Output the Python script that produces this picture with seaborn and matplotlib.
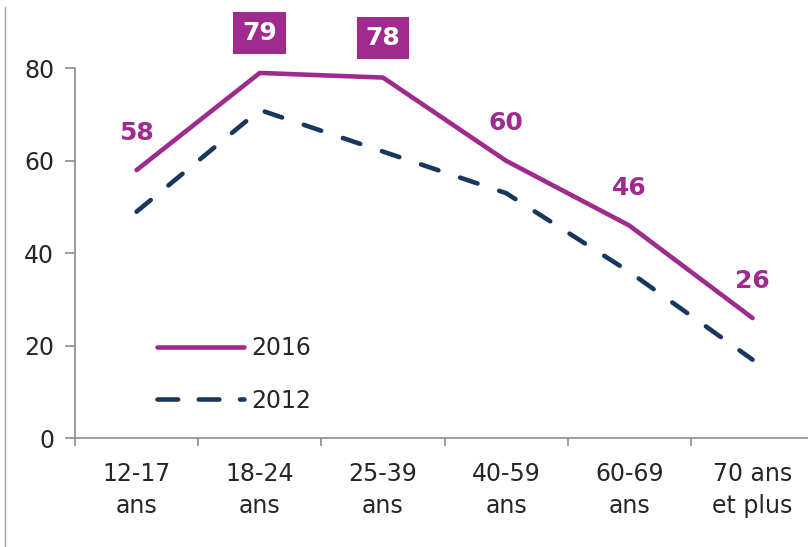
import matplotlib
matplotlib.use('Agg')
import matplotlib.pyplot as plt
from matplotlib.lines import Line2D
import seaborn as sns
import pandas as pd

# %%
ages = ['12-17\nans', '18-24\nans', '25-39\nans', '40-59\nans',
        '60-69\nans', '70 ans\net plus']
vals_2016 = [58, 79, 78, 60, 46, 26]
vals_2012 = [49, 71, 62, 53, 36, 17]
boxed = [False, True, True, False, False, False]

purple = '#A02B8E'
navy = '#17375E'
grey = '#8C8C8C'

df = pd.DataFrame({'pos': list(range(len(ages))) * 2,
                   'val': vals_2016 + vals_2012,
                   'year': ['2016'] * len(ages) + ['2012'] * len(ages)})

# %%
sns.set_theme(style='white')
plt.rcParams['font.family'] = ['DejaVu Sans']

fig = plt.figure(figsize=(8.08, 5.47), dpi=100)
ax = fig.add_axes([0.0928, 0.1987, 0.9072, 0.6764])

sns.lineplot(data=df, x='pos', y='val', hue='year', style='year',
             palette={'2016': purple, '2012': navy},
             dashes={'2016': '', '2012': (4, 5)},
             linewidth=3.3, ax=ax, legend=False,
             solid_capstyle='round', dash_capstyle='round')

# value labels for 2016
for i, v in enumerate(vals_2016):
    if boxed[i]:
        ax.annotate(str(v), xy=(i, v), xytext=(0, 28.5),
                    textcoords='offset points', ha='center', va='center',
                    fontsize=18, fontweight='bold', color='white',
                    bbox=dict(boxstyle='square,pad=0.36', fc=purple,
                              ec='none'))
    else:
        ax.annotate(str(v), xy=(i, v), xytext=(0, 27),
                    textcoords='offset points', ha='center', va='center',
                    fontsize=18, fontweight='bold', color=purple)

ax.set_xlim(-0.5, 5.45)
ax.set_ylim(0, 80)
ax.set_yticks([0, 20, 40, 60, 80])
ax.set_xticks(range(len(ages)))
ax.set_xticklabels(ages, linespacing=1.4)
ax.set_xticks([-0.5, 0.5, 1.5, 2.5, 3.5, 4.5], minor=True)
ax.set_xlabel('')
ax.set_ylabel('')

for s in ['top', 'right']:
    ax.spines[s].set_visible(False)
for s in ['left', 'bottom']:
    ax.spines[s].set_color(grey)
    ax.spines[s].set_linewidth(1.2)

ax.tick_params(axis='y', which='major', length=7, width=1.2, color=grey,
               direction='out', left=True, pad=8, labelsize=17,
               labelcolor='#262626')
ax.tick_params(axis='x', which='major', length=0, pad=17, labelsize=17,
               labelcolor='#262626')
ax.tick_params(axis='x', which='minor', length=6, width=1.2, color=grey,
               direction='out', bottom=True)

handles = [Line2D([], [], color=purple, lw=3.3, solid_capstyle='round'),
           Line2D([], [], color=navy, lw=3.3, dashes=(4.5, 4.5),
                  dash_capstyle='round')]
ax.legend(handles, ['2016', '2012'], loc='upper left',
          bbox_to_anchor=(0.112, 0.276), frameon=False, fontsize=17,
          handlelength=3.7, handletextpad=0.3, labelspacing=1.2,
          borderpad=0, borderaxespad=0, labelcolor='#262626')

# thin frame line on the left edge of the picture
fig.add_artist(Line2D([0.006, 0.006], [0.0, 0.987], color='#A0A0A0', lw=1,
                      transform=fig.transFigure))

fig.savefig('out.png', dpi=100)
